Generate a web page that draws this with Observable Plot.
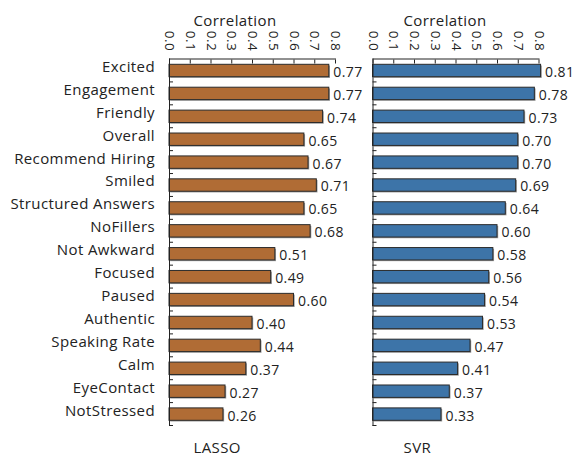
<!DOCTYPE html>
<html>
<head>
<meta charset="utf-8">
<script src="https://cdn.jsdelivr.net/npm/d3@7"></script>
<script src="https://cdn.jsdelivr.net/npm/@observablehq/plot@0.6"></script>
<style>
  html, body { margin: 0; padding: 0; background: #fff; }
  #wrap { display: flex; flex-direction: row; width: 573px; height: 455px; }
  svg { overflow: visible; }
  svg text { letter-spacing: 0.4px; }
</style>
</head>
<body>
<div id="wrap"></div>
<script>
const categories = ["Excited", "Engagement", "Friendly", "Overall", "Recommend Hiring", "Smiled",
  "Structured Answers", "NoFillers", "Not Awkward", "Focused", "Paused", "Authentic",
  "Speaking Rate", "Calm", "EyeContact", "NotStressed"];
const lassoValues = [0.77, 0.77, 0.74, 0.65, 0.67, 0.71, 0.65, 0.68, 0.51, 0.49, 0.60, 0.40, 0.44, 0.37, 0.27, 0.26];
const svrValues = [0.81, 0.78, 0.73, 0.70, 0.70, 0.69, 0.64, 0.60, 0.58, 0.56, 0.54, 0.53, 0.47, 0.41, 0.37, 0.33];
const tickValues = [0, 0.1, 0.2, 0.3, 0.4, 0.5, 0.6, 0.7, 0.8];
const axisTitle = "Correlation";
const modelNames = ["LASSO", "SVR"];
const colors = ["#b06c35", "#3d74a8"];

const FONT = "'Open Sans', sans-serif";
const H = 455, MT = 58.5, MB = 30;
const step = (H - MT - MB) / categories.length;

function panel(values, name, color, opts) {
  const data = categories.map((c, i) => ({cat: c, v: values[i]}));
  const marks = [
    Plot.barX(data, {y: "cat", x: "v", fill: "#9a9a9a", insetTop: 5.8, insetBottom: 4.7, dx: 1.2, dy: 1.2}),
    Plot.barX(data, {y: "cat", x: "v", fill: color, stroke: "#2b2b2b", strokeWidth: 1, insetTop: 5.8, insetBottom: 4.7}),
    Plot.text(data, {y: "cat", x: "v", text: d => d3.format(".2f")(d.v), textAnchor: "start", dx: 4, dy: 2, fontSize: 14, fill: "#222"}),
    Plot.frame({anchor: "top", stroke: "#222"}),
    Plot.frame({anchor: "left", stroke: "#222"}),
    Plot.axisX({anchor: "top", ticks: tickValues, tickFormat: d3.format(".1f"), tickRotate: 90, tickSize: -4, tickPadding: 12, label: null, fontSize: 13.5, fill: "#222"}),
    Plot.axisY({anchor: "left", tickSize: -4, tickFormat: () => "", dy: step / 2, label: null}),
    Plot.text([axisTitle], {frameAnchor: "top-left", lineAnchor: "bottom", text: d => d, dx: opts.titleDx, dy: -33.5, textAnchor: "start", fontSize: 15, fill: "#222"}),
    Plot.text([name], {frameAnchor: "bottom-left", lineAnchor: "bottom", text: d => d, dx: opts.titleDx, dy: 27, textAnchor: "start", fontSize: 15, fill: "#222"})
  ];
  if (opts.labels) {
    marks.push(Plot.axisY({anchor: "left", tickSize: 0, tickPadding: 14.5, dy: -3.3, label: null, fontSize: 15, fill: "#222"}));
  }
  return Plot.plot({
    width: opts.width,
    height: H,
    marginTop: MT,
    marginBottom: MB,
    marginLeft: opts.ml,
    marginRight: opts.mr,
    style: {fontFamily: FONT, color: "#222", background: "transparent"},
    x: {domain: [0, 0.8]},
    y: {domain: categories, padding: 0, round: false, axis: null},
    marks
  });
}

const wrap = document.getElementById("wrap");
wrap.appendChild(panel(lassoValues, modelNames[0], colors[0], {width: 362, ml: 169, mr: 27, labels: true, titleDx: 24}));
wrap.appendChild(panel(svrValues, modelNames[1], colors[1], {width: 211, ml: 10.5, mr: 34.5, labels: false, titleDx: 30.5}));
</script>
</body>
</html>
